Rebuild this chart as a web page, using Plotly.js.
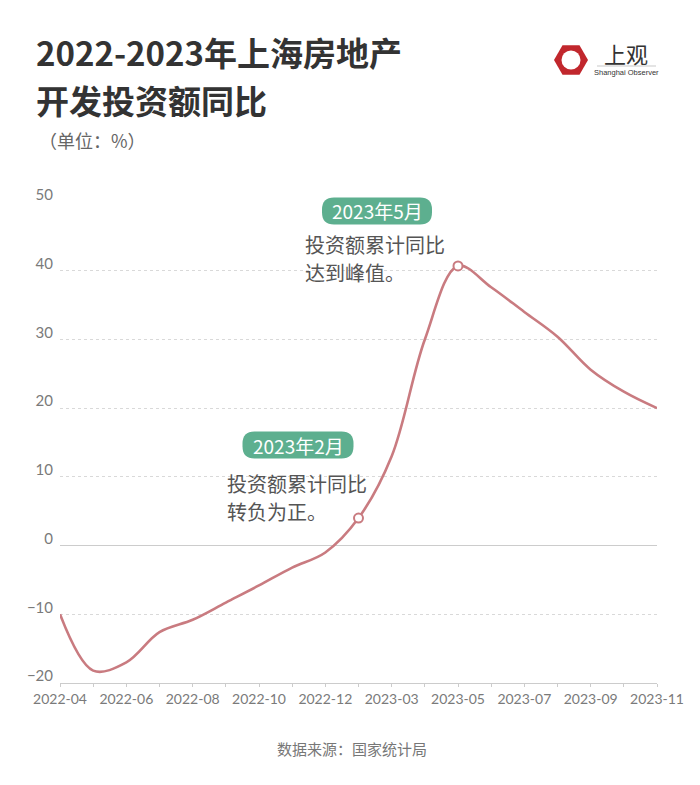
<!DOCTYPE html>
<html>
<head>
<meta charset="utf-8">
<script src="https://cdn.plot.ly/plotly-3.0.1.min.js"></script>
<style>html,body{margin:0;padding:0;background:#fff;}#chart{width:700px;height:785px;}</style>
</head>
<body>
<div id="chart"></div>
<script>
// ---- data ----
const months = ['2022-04','2022-05','2022-06','2022-07','2022-08','2022-09','2022-10','2022-11','2022-12',
                '2023-02','2023-03','2023-04','2023-05','2023-06','2023-07','2023-08','2023-09','2023-10','2023-11'];
const values = [-10.0, -18.2, -17.0, -12.6, -10.8, -8.3, -5.8, -3.2, -1.0,
                4.0, 13.0, 30.0, 40.7, 37.6, 34.0, 30.4, 25.6, 22.4, 20.0];
const tickLabels = months.map((m, i) => (i % 2 === 0 ? m : ''));
const yTicks = [-20, -10, 0, 10, 20, 30, 40, 50];
const highlightIdx = [9, 12];
const titleLines = ['2022-2023年上海房地产', '开发投资额同比'];
const unitText = '（单位：%）';
const sourceText = '数据来源：国家统计局';
const callouts = [
  {tag: '2023年5月', lines: ['投资额累计同比', '达到峰值。']},
  {tag: '2023年2月', lines: ['投资额累计同比', '转负为正。']}
];

// ---- layout helpers (pixel -> paper) ----
const L = 60, R = 43, T = 202, B = 102, W = 700, H = 785;
const pw = W - L - R, ph = H - T - B;
const px = v => (v - L) / pw;
const py = v => (H - B - v) / ph;

const CJK = '"Noto Sans CJK SC", "Noto Sans", sans-serif';
const NUM = 'Lato, "Noto Sans", sans-serif';
const lineColor = '#c97b80';
const green = '#5daf8f';

function pill(cx, cy, w, h, r) {
  const a = w / 2, b = h / 2;
  return {
    type: 'path', xref: 'paper', yref: 'paper', xsizemode: 'pixel', ysizemode: 'pixel',
    xanchor: px(cx), yanchor: py(cy),
    path: `M ${-a + r} ${-b} L ${a - r} ${-b} Q ${a} ${-b} ${a} ${-b + r} L ${a} ${b - r} Q ${a} ${b} ${a - r} ${b} ` +
          `L ${-a + r} ${b} Q ${-a} ${b} ${-a} ${b - r} L ${-a} ${-b + r} Q ${-a} ${-b} ${-a + r} ${-b} Z`,
    fillcolor: green, line: {width: 0}, layer: 'above'
  };
}
function hexPath(r) {
  let p = '';
  for (let k = 0; k < 6; k++) {
    const ang = Math.PI / 3 * k;
    p += (k === 0 ? 'M ' : 'L ') + (r * Math.cos(ang)).toFixed(2) + ' ' + (r * Math.sin(ang)).toFixed(2) + ' ';
  }
  return p + 'Z';
}
function textAnn(text, x, y, size, color, opts) {
  return Object.assign({text: text, xref: 'paper', yref: 'paper', x: px(x), y: py(y),
    xanchor: 'left', yanchor: 'middle', showarrow: false, borderpad: 0,
    font: {family: CJK, size: size, color: color}}, opts || {});
}

const traces = [
  {
    x: months, y: values, type: 'scatter', mode: 'lines',
    line: {color: lineColor, width: 2.6, shape: 'spline', smoothing: 1},
    hoverinfo: 'skip', cliponaxis: false
  },
  {
    x: highlightIdx.map(i => months[i]), y: highlightIdx.map(i => values[i]),
    type: 'scatter', mode: 'markers',
    marker: {size: 9, color: '#fff', line: {color: lineColor, width: 2}},
    hoverinfo: 'skip', cliponaxis: false
  }
];

const layout = {
  width: W, height: H,
  margin: {l: L, r: R, t: T, b: B},
  paper_bgcolor: '#fff', plot_bgcolor: '#fff',
  showlegend: false,
  xaxis: {
    type: 'category', categoryorder: 'array', categoryarray: months,
    range: [0, months.length - 1],
    tickmode: 'array', tickvals: months, ticktext: tickLabels,
    ticks: 'outside', ticklen: 3, tickcolor: '#cccccc', tickwidth: 1,
    showline: true, linecolor: '#cccccc', linewidth: 1,
    showgrid: false, zeroline: false,
    tickfont: {family: NUM, size: 14, color: '#7a7a7a'},
    tickangle: 0, fixedrange: true
  },
  yaxis: {
    range: [-20, 50], tickmode: 'array', tickvals: yTicks,
    showgrid: true, gridcolor: '#d9d9d9', griddash: '3px,3px', gridwidth: 1,
    zeroline: true, zerolinecolor: '#cccccc', zerolinewidth: 1,
    showline: false, ticks: '',
    tickfont: {family: NUM, size: 15, color: '#7a7a7a'},
    ticklabelshift: -7, ticklabelstandoff: 6, fixedrange: true
  },
  shapes: [
    pill(377, 211, 110, 27, 12),
    pill(298, 445, 111, 27, 12),
    // logo
    {type: 'path', xref: 'paper', yref: 'paper', xsizemode: 'pixel', ysizemode: 'pixel',
     xanchor: px(571), yanchor: py(60), path: hexPath(17), fillcolor: '#c1272d', line: {width: 0}},
    {type: 'circle', xref: 'paper', yref: 'paper', xsizemode: 'pixel', ysizemode: 'pixel',
     xanchor: px(571), yanchor: py(60), x0: -9.5, x1: 9.5, y0: -9.5, y1: 9.5, fillcolor: '#fff', line: {width: 0}},
    {type: 'line', xref: 'paper', yref: 'paper', x0: px(597), x1: px(656), y0: py(66), y1: py(66),
     line: {color: '#bbbbbb', width: 0.8}}
  ],
  annotations: [
    textAnn(titleLines[0], 35, 52, 33, '#333333', {font: {family: CJK, size: 33, color: '#333333', weight: 'bold'}}),
    textAnn(titleLines[1], 35, 100, 33, '#333333', {font: {family: CJK, size: 33, color: '#333333', weight: 'bold'}}),
    textAnn(unitText, 38, 140, 18, '#666666'),
    textAnn('上观', 626, 53, 22, '#333333', {xanchor: 'center'}),
    textAnn('Shanghai Observer', 626, 72, 7.5, '#333333',
            {xanchor: 'center', font: {family: 'Liberation Sans, sans-serif', size: 7.5, color: '#333333'}}),
    textAnn(callouts[0].tag, 377, 211, 19, '#ffffff', {xanchor: 'center'}),
    textAnn(callouts[0].lines[0], 304, 245, 20, '#555555'),
    textAnn(callouts[0].lines[1], 304, 272, 20, '#555555'),
    textAnn(callouts[1].tag, 298, 445, 19, '#ffffff', {xanchor: 'center'}),
    textAnn(callouts[1].lines[0], 226, 484, 20, '#555555'),
    textAnn(callouts[1].lines[1], 226, 511, 20, '#555555'),
    textAnn(sourceText, 352, 748, 15, '#777777', {xanchor: 'center'})
  ]
};

Plotly.newPlot('chart', traces, layout, {staticPlot: true, displayModeBar: false});
</script>
</body>
</html>
